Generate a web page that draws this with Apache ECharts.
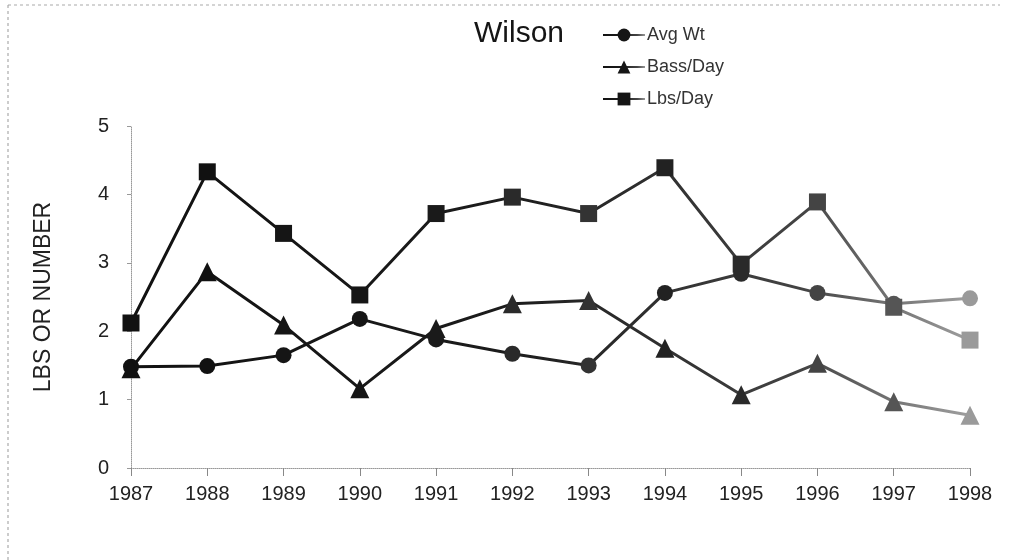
<!DOCTYPE html>
<html><head><meta charset="utf-8">
<script src="https://cdn.jsdelivr.net/npm/echarts@6/dist/echarts.min.js"></script>
<style>html,body{margin:0;padding:0;background:#fff}#c{width:1013px;height:560px}</style>
</head><body><div id="c"></div>
<script>
const years = ['1987','1988','1989','1990','1991','1992','1993','1994','1995','1996','1997','1998'];
const avgWt   = [1.48, 1.49, 1.65, 2.18, 1.88, 1.67, 1.50, 2.56, 2.84, 2.56, 2.40, 2.48];
const bassDay = [1.45, 2.87, 2.09, 1.16, 2.04, 2.40, 2.45, 1.75, 1.07, 1.53, 0.97, 0.77];
const lbsDay  = [2.12, 4.33, 3.43, 2.53, 3.72, 3.96, 3.72, 4.39, 2.98, 3.89, 2.35, 1.87];
const yTicks = [0, 1, 2, 3, 4, 5];

// scan fading towards the right side of the page (style only)
const shade = ['#111','#111','#151515','#151515','#1a1a1a','#2a2a2a','#333','#222','#2a2a2a','#444','#555','#9a9a9a'];

const chart = echarts.init(document.getElementById('c'));
const fade = new echarts.graphic.LinearGradient(0, 0, 1, 0, [
  {offset: 0, color: '#111'}, {offset: 0.45, color: '#1c1c1c'}, {offset: 0.8, color: '#444'}, {offset: 1, color: '#a0a0a0'}
]);
function mk(name, data, symbol, size) {
  return {
    name, type: 'line', symbol, symbolSize: size,
    data: data.map((v, i) => ({value: v, itemStyle: {color: shade[i]}})),
    lineStyle: {color: fade, width: 3},
    itemStyle: {color: '#151515', borderWidth: 0},
    emphasis: {disabled: true}
  };
}
const font = 'Liberation Sans, Arial, sans-serif';
chart.setOption({
  animation: false,
  backgroundColor: '#fff',
  title: {text: 'Wilson', left: 469, top: 14,
    textStyle: {fontFamily: font, fontSize: 30, fontWeight: 'normal', color: '#151515'}},
  legend: {
    orient: 'vertical', left: 597, top: 21, itemWidth: 42, itemHeight: 16, itemGap: 14,
    textStyle: {fontFamily: font, fontSize: 18, lineHeight: 18, color: '#333', padding: [0, 0, 0, -3]},
    data: ['Avg Wt', 'Bass/Day', 'Lbs/Day']
  },
  grid: {left: 131, right: 43, top: 126, bottom: 92},
  xAxis: {
    type: 'category', data: years, boundaryGap: false,
    axisLine: {lineStyle: {color: '#999', type: 'dotted', width: 1}},
    axisTick: {show: true, alignWithLabel: true, length: 8, lineStyle: {color: '#888'}},
    axisLabel: {fontFamily: font, fontSize: 20, color: '#222', margin: 16}
  },
  yAxis: {
    type: 'value', min: yTicks[0], max: yTicks[yTicks.length-1], interval: 1,
    name: 'LBS OR NUMBER', nameLocation: 'middle', nameGap: 76,
    nameTextStyle: {fontFamily: font, fontSize: 23, color: '#222'},
    axisLine: {show: true, lineStyle: {color: '#999', type: 'dotted', width: 1}},
    axisTick: {show: true, length: 4, lineStyle: {color: '#999'}},
    splitLine: {show: false},
    axisLabel: {fontFamily: font, fontSize: 20, color: '#222', margin: 22}
  },
  graphic: [
    {type: 'line', shape: {x1: 8, y1: 5, x2: 1000, y2: 5}, style: {stroke: '#aaa', lineDash: [3, 3], lineWidth: 1}},
    {type: 'line', shape: {x1: 8, y1: 5, x2: 8, y2: 560}, style: {stroke: '#999', lineDash: [3, 3], lineWidth: 1}}
  ],
  series: [
    mk('Avg Wt', avgWt, 'circle', 16),
    mk('Bass/Day', bassDay, 'triangle', 19),
    mk('Lbs/Day', lbsDay, 'rect', 17)
  ]
});
</script></body></html>
